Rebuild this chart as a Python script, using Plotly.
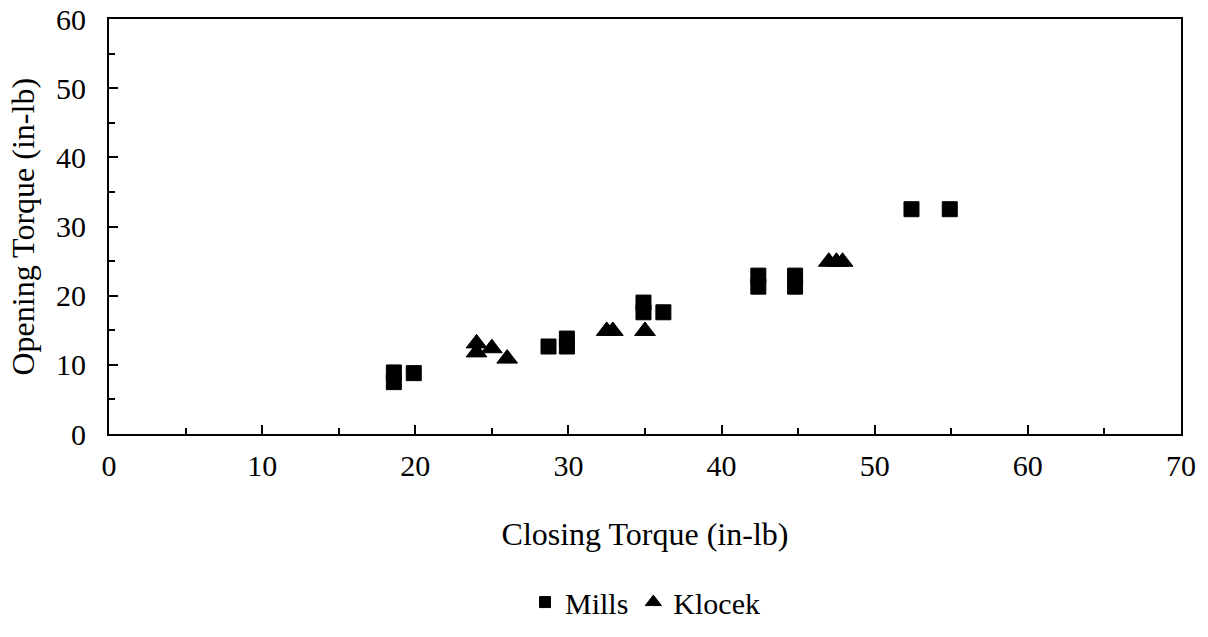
import plotly.graph_objects as go

# Mills data
mills_x = [18.6, 18.6, 19.9, 28.7, 29.9, 29.9, 34.9, 34.9, 36.2, 42.4, 42.4, 44.8, 44.8, 52.4, 54.9]
mills_y = [8.9, 7.5, 8.8, 12.65, 12.65, 13.8, 17.6, 19.0, 17.6, 21.3, 22.9, 21.3, 22.9, 32.5, 32.5]

# Klocek data
klocek_x = [24.0, 24.0, 25.0, 26.0, 32.5, 32.9, 35.0, 47.0, 47.5, 47.9]
klocek_y = [13.1, 11.8, 12.4, 10.9, 14.9, 14.9, 14.9, 24.9, 24.9, 24.9]

x_ticks = [0, 10, 20, 30, 40, 50, 60, 70]
y_ticks = [0, 10, 20, 30, 40, 50, 60]

FONT = "Liberation Serif, Times New Roman, serif"
FS = 30
TFS = 32

fig = go.Figure()
fig.add_trace(go.Scatter(
    x=mills_x, y=mills_y, mode="markers", name="Mills", showlegend=False,
    marker=dict(symbol="square", size=15, color="black",
                line=dict(color="black", width=1)),
))
fig.add_trace(go.Scatter(
    x=klocek_x, y=klocek_y, mode="markers", name="Klocek", showlegend=False,
    marker=dict(symbol="triangle-up", size=18, color="black",
                line=dict(color="black", width=1)),
))
# legend entries with smaller symbols
fig.add_trace(go.Scatter(
    x=[None], y=[None], mode="markers", name="Mills",
    marker=dict(symbol="square", size=11, color="black", line=dict(color="black", width=1)),
))
fig.add_trace(go.Scatter(
    x=[None], y=[None], mode="markers", name="Klocek",
    marker=dict(symbol="triangle-up", size=14, color="black", line=dict(color="black", width=1)),
))

axis_common = dict(
    showgrid=False, zeroline=False, showline=True, linecolor="black",
    linewidth=2, mirror=True, ticks="inside", ticklen=9, tickwidth=1.5,
    tickcolor="black", tickfont=dict(family=FONT, size=FS, color="black"),
    minor=dict(ticks="inside", ticklen=6, tickwidth=1.5, tickcolor="black", dtick=5),
)

fig.update_xaxes(
    range=[0, 70], tickvals=x_ticks, ticktext=[str(v) for v in x_ticks],
    title=dict(text="Closing Torque (in-lb)", font=dict(family=FONT, size=TFS, color="black"),
               standoff=42),
    ticklabelstandoff=4,
    **axis_common,
)
fig.update_yaxes(
    range=[0, 60], tickvals=y_ticks, ticktext=[str(v) for v in y_ticks],
    ticklabelstandoff=15,
    **axis_common,
)

fig.add_annotation(
    text="Opening Torque (in-lb)", xref="paper", yref="paper",
    x=(22 - 109) / 1072, y=0.5, xanchor="center", yanchor="middle",
    textangle=-90, showarrow=False,
    font=dict(family=FONT, size=TFS, color="black"),
)

fig.update_layout(
    width=1208, height=637,
    margin=dict(l=109, r=27, t=19, b=203, autoexpand=False),
    paper_bgcolor="white", plot_bgcolor="white",
    showlegend=True,
    legend=dict(orientation="h", x=0.5, xanchor="center", y=-0.405, yanchor="middle",
                font=dict(family=FONT, size=FS, color="black"),
                itemwidth=30, tracegroupgap=0),
)

fig.write_html("out.html")
